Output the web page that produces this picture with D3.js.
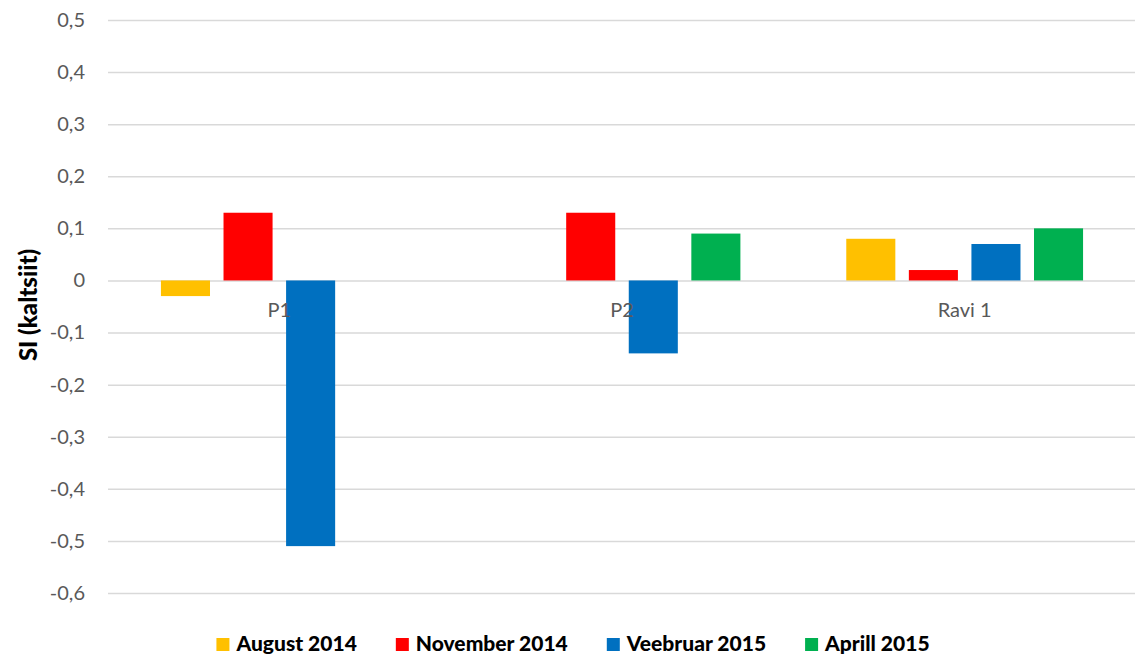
<!DOCTYPE html>
<html>
<head>
<meta charset="utf-8">
<script src="https://cdn.jsdelivr.net/npm/d3@7"></script>
<style>
  html, body { margin: 0; padding: 0; background: #fff; }
  svg { display: block; font-family: Lato, "Open Sans", sans-serif; }
</style>
</head>
<body>
<svg id="chart" width="1135" height="660"></svg>
<script>
const categories = ["P1", "P2", "Ravi 1"];
const seriesNames = ["August 2014", "November 2014", "Veebruar 2015", "Aprill 2015"];
const seriesColors = ["#FFC000", "#FF0000", "#0070C0", "#00B050"];
const august2014 = [-0.03, null, 0.08];
const november2014 = [0.13, 0.13, 0.02];
const veebruar2015 = [-0.51, -0.14, 0.07];
const aprill2015 = [null, 0.09, 0.10];
const yTicks = [0.5, 0.4, 0.3, 0.2, 0.1, 0, -0.1, -0.2, -0.3, -0.4, -0.5, -0.6];
const yTitle = "SI (kaltsiit)";

const seriesValues = [august2014, november2014, veebruar2015, aprill2015];

const svg = d3.select("#chart");
const plotLeft = 108, plotRight = 1136, plotTop = 20, plotBottom = 593;

const y = d3.scaleLinear().domain([-0.6, 0.5]).range([plotBottom, plotTop]);
const x0 = d3.scaleBand().domain(categories).range([plotLeft, plotRight]).paddingInner(0).paddingOuter(0);
const x1 = d3.scaleBand().domain(seriesNames).range([0, x0.bandwidth()]).paddingInner(0.216).paddingOuter(0.846);

// gridlines + tick labels
const yAxis = d3.axisLeft(y).tickValues(yTicks)
  .tickSize(-(plotRight - plotLeft)).tickPadding(23)
  .tickFormat(d => Math.abs(d) < 1e-9 ? "0" : d.toFixed(1).replace(".", ","));
const gy = svg.append("g").attr("transform", `translate(${plotLeft},0)`).call(yAxis);
gy.select(".domain").remove();
gy.selectAll(".tick line").attr("stroke", "#d9d9d9").attr("stroke-width", 1.5);
gy.selectAll(".tick text").attr("fill", "#595959").style("font-size", "20px").attr("font-family", "Lato, sans-serif");

// bars
const groups = svg.append("g").selectAll("g")
  .data(categories).join("g")
  .attr("transform", d => `translate(${x0(d)},0)`);

groups.selectAll("rect")
  .data((c, ci) => seriesNames.map((s, si) => ({ s, si, v: seriesValues[si][ci] })).filter(d => d.v !== null))
  .join("rect")
  .attr("x", d => x1(d.s))
  .attr("width", x1.bandwidth())
  .attr("y", d => y(Math.max(0, d.v)))
  .attr("height", d => Math.abs(y(d.v) - y(0)))
  .attr("fill", d => seriesColors[d.si]);

// category labels
svg.append("g").selectAll("text")
  .data(categories).join("text")
  .attr("x", d => x0(d) + x0.bandwidth() / 2)
  .attr("y", y(0) + 37)
  .attr("text-anchor", "middle")
  .attr("fill", "#595959")
  .style("font-size", "20px")
  .text(d => d);

// y title
svg.append("text")
  .attr("transform", `translate(37,305) rotate(-90)`)
  .attr("text-anchor", "middle")
  .attr("font-weight", "900")
  .attr("fill", "#000")
  .style("font-size", "24px")
  .text(yTitle);

// legend
const legend = svg.append("g");
const items = legend.selectAll("g").data(seriesNames).join("g");
items.append("rect").attr("width", 13).attr("height", 13).attr("y", -13)
  .attr("fill", (d, i) => seriesColors[i]);
items.append("text").attr("x", 20).attr("y", 0)
  .attr("font-weight", "900").attr("fill", "#000").style("font-size", "21px")
  .text(d => d);
const widths = [];
items.each(function () { widths.push(20 + this.querySelector("text").getComputedTextLength()); });
const gap = 39;
const total = d3.sum(widths) + gap * (widths.length - 1);
const start = 573 - total / 2;
items.attr("transform", (d, i) => {
  const xx = start + d3.sum(widths.slice(0, i)) + gap * i;
  return `translate(${xx},651)`;
});
</script>
</body>
</html>
